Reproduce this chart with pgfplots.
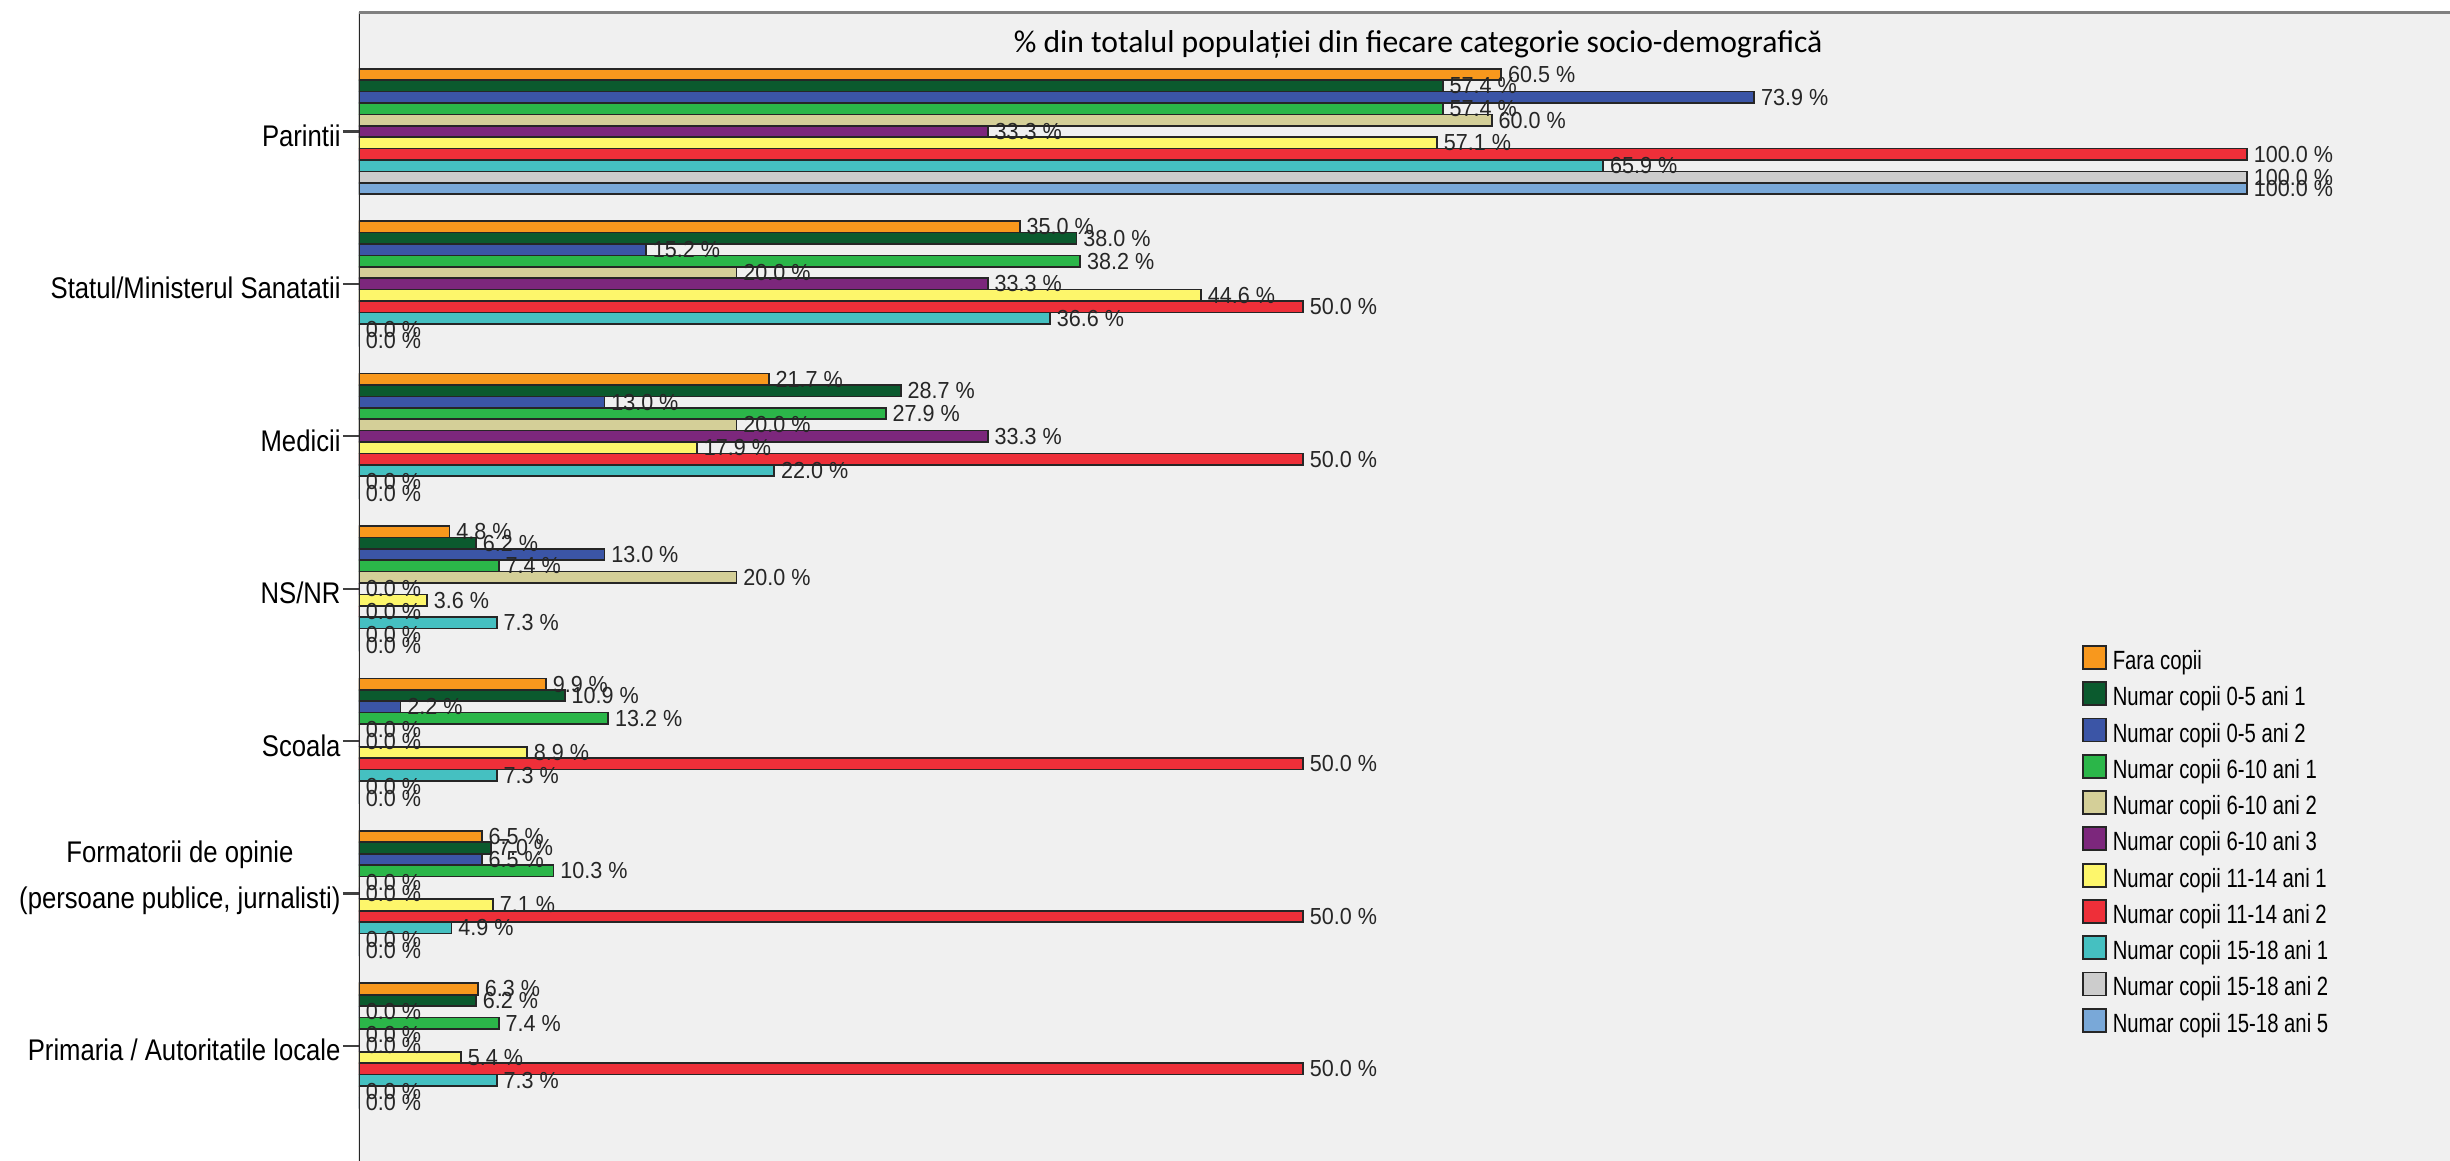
\documentclass[border=0pt]{standalone}
\usepackage{pgfplots}
\pgfplotsset{compat=1.18}
\usepackage{fontspec}
\setmainfont[FakeStretch=0.86]{Liberation Sans}
\newfontfamily\lblfont[FakeStretch=0.93]{Liberation Sans}
\newfontfamily\legfont[FakeStretch=0.77]{Liberation Sans}
\newfontfamily\titlefont{Carlito}
\definecolor{c1}{RGB}{248,152,29}
\definecolor{c2}{RGB}{11,90,46}
\definecolor{c3}{RGB}{59,85,166}
\definecolor{c4}{RGB}{43,182,73}
\definecolor{c5}{RGB}{212,207,152}
\definecolor{c6}{RGB}{124,39,124}
\definecolor{c7}{RGB}{253,246,107}
\definecolor{c8}{RGB}{238,47,57}
\definecolor{c9}{RGB}{69,192,193}
\definecolor{c10}{RGB}{204,204,204}
\definecolor{c11}{RGB}{121,168,216}
\definecolor{bg}{RGB}{240,240,240}
\begin{document}
\begin{tikzpicture}
\begin{axis}[
  at={(0,0)}, anchor=south west, scale only axis,
  width=20.91cm, height=11.49cm,
  xbar=0pt, bar width=0.114cm,
  xmin=0, xmax=110.75,
  ymin=-0.784, ymax=6.755, y dir=reverse,
  ytick={0,1,2,3,4,5,6},
  yticklabels={Parintii, Statul/Ministerul Sanatatii, Medicii, NS/NR, Scoala, {\begin{tabular}[b]{@{}c@{}}Formatorii de opinie\\(persoane publice, jurnalisti)\end{tabular}}, Primaria / Autoritatile locale},
  xtick=\empty,
  ytick pos=left, tick align=outside, major tick length=0.16cm,
  y tick style={black!75, line width=0.6pt},
  yticklabel style={font=\fontsize{8.5}{13.2}\selectfont, anchor=base east, inner xsep=0.5pt, yshift=-0.15cm},
  axis line style={draw=none},
  axis background/.style={fill=bg},
  every axis plot/.append style={draw=black!85, line width=0.5pt},
  nodes near coords={\pgfmathprintnumber[fixed,fixed zerofill,precision=1,assume math mode=true]{\pgfplotspointmeta}\ \%},
  every node near coord/.append style={font=\lblfont\fontsize{6.6}{7}\selectfont, anchor=west, inner xsep=1.7pt, text=black!85},
  legend style={at={(axis description cs:0.824,0.449)}, anchor=north west, draw=none, fill=none, inner sep=0pt, outer sep=0pt, font=\legfont\fontsize{7.5}{9}\selectfont, row sep=0.059cm, nodes={inner sep=0pt, text height=0.23cm, text depth=0.06cm}, /tikz/every odd column/.append style={column sep=0.06cm}},
  legend cell align=left,
  legend image code/.code={\draw[#1, line width=0.5pt] (0cm,-0.08cm) rectangle (0.23cm,0.15cm);},
]
\addplot[fill=c1, bar shift=0.570cm] coordinates {(60.5,0) (35.0,1) (21.7,2) (4.8,3) (9.9,4) (6.5,5) (6.3,6)};
\addplot[fill=c2, bar shift=0.456cm] coordinates {(57.4,0) (38.0,1) (28.7,2) (6.2,3) (10.9,4) (7.0,5) (6.2,6)};
\addplot[fill=c3, bar shift=0.342cm] coordinates {(73.9,0) (15.2,1) (13.0,2) (13.0,3) (2.2,4) (6.5,5) (0.0,6)};
\addplot[fill=c4, bar shift=0.228cm] coordinates {(57.4,0) (38.2,1) (27.9,2) (7.4,3) (13.2,4) (10.3,5) (7.4,6)};
\addplot[fill=c5, bar shift=0.114cm] coordinates {(60.0,0) (20.0,1) (20.0,2) (20.0,3) (0.0,4) (0.0,5) (0.0,6)};
\addplot[fill=c6, bar shift=0cm] coordinates {(33.3,0) (33.3,1) (33.3,2) (0.0,3) (0.0,4) (0.0,5) (0.0,6)};
\addplot[fill=c7, bar shift=-0.114cm] coordinates {(57.1,0) (44.6,1) (17.9,2) (3.6,3) (8.9,4) (7.1,5) (5.4,6)};
\addplot[fill=c8, bar shift=-0.228cm] coordinates {(100.0,0) (50.0,1) (50.0,2) (0.0,3) (50.0,4) (50.0,5) (50.0,6)};
\addplot[fill=c9, bar shift=-0.342cm] coordinates {(65.9,0) (36.6,1) (22.0,2) (7.3,3) (7.3,4) (4.9,5) (7.3,6)};
\addplot[fill=c10, bar shift=-0.456cm] coordinates {(100.0,0) (0.0,1) (0.0,2) (0.0,3) (0.0,4) (0.0,5) (0.0,6)};
\addplot[fill=c11, bar shift=-0.570cm] coordinates {(100.0,0) (0.0,1) (0.0,2) (0.0,3) (0.0,4) (0.0,5) (0.0,6)};
\legend{Fara copii, Numar copii 0-5 ani 1, Numar copii 0-5 ani 2, Numar copii 6-10 ani 1, Numar copii 6-10 ani 2, Numar copii 6-10 ani 3, Numar copii 11-14 ani 1, Numar copii 11-14 ani 2, Numar copii 15-18 ani 1, Numar copii 15-18 ani 2, Numar copii 15-18 ani 5}
\node[font=\titlefont\fontsize{9}{11}\selectfont, anchor=center] at (axis description cs:0.5065,0.9722) {\% din totalul populației din fiecare categorie socio-demografică};
\draw[black!85, line width=0.6pt] (axis description cs:0,0) -- (axis description cs:0,1);
\draw[black!50, line width=1pt] (axis description cs:0,1) -- (axis description cs:1,1);
\end{axis}
\pgfresetboundingbox
\useasboundingbox (-3.59cm,0) rectangle (20.91cm,11.61cm);
\end{tikzpicture}
\end{document}
